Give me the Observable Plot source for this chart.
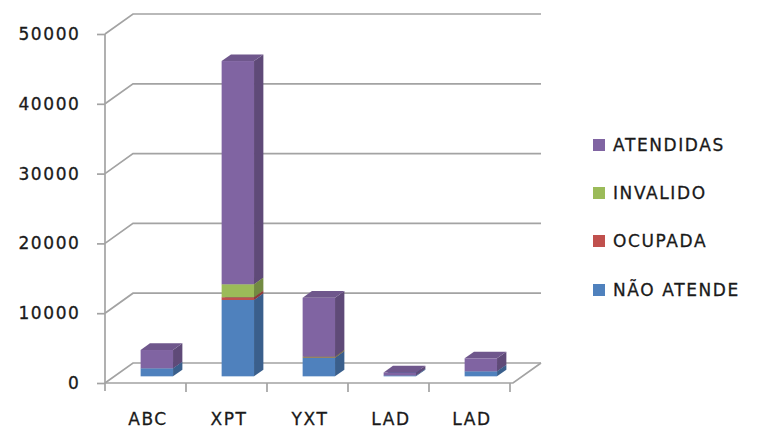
<!DOCTYPE html>
<html>
<head>
<meta charset="utf-8">
<script src="https://cdn.jsdelivr.net/npm/d3@7"></script>
<script src="https://cdn.jsdelivr.net/npm/@observablehq/plot@0.6"></script>
<style>
  html, body { margin: 0; padding: 0; background: #fff; }
  #wrap { position: relative; width: 760px; height: 428px; }
  #wrap svg text { stroke: #1a1a1a; stroke-width: 0.3px; }
  #legend { position: absolute; left: 593px; top: 0; font-family: "DejaVu Sans", sans-serif; font-size: 17px; letter-spacing: 1.6px; color: #1a1a1a; -webkit-text-stroke: 0.3px #1a1a1a; }
  .item { position: absolute; left: 0; white-space: nowrap; display: flex; align-items: center; height: 20px; }
  .sw { width: 12px; height: 12px; margin-right: 8px; flex: none; }
</style>
</head>
<body>
<div id="wrap"><div id="legend"></div></div>
<script>
// ---- data ----
const categories = ["ABC", "XPT", "YXT", "LAD", "LAD"];
const series = ["NÃO ATENDE", "OCUPADA", "INVALIDO", "ATENDIDAS"];
const naoAtende = [1150, 10940, 2660, 130, 720];
const ocupada   = [0, 390, 50, 0, 0];
const invalido  = [0, 1860, 100, 0, 0];
const atendidas = [2620, 31980, 8450, 420, 1860];
const yTicks = [0, 10000, 20000, 30000, 40000, 50000];
const colors = ["#4F81BD", "#C0504D", "#9BBB59", "#8064A2"];
const legendOrder = ["ATENDIDAS", "INVALIDO", "OCUPADA", "NÃO ATENDE"];

const seriesValues = [naoAtende, ocupada, invalido, atendidas];
const data = [];
categories.forEach((c, i) => {
  series.forEach((s, k) => {
    const v = seriesValues[k][i];
    if (v > 0) data.push({i, cat: c, series: s, value: v});
  });
});

// ---- 3D geometry (pixels) ----
const DEPTH_X = 28, DEPTH_Y = 20;           // wall / floor depth
const BAR_DX = DEPTH_X / 3, BAR_DY = DEPTH_Y / 3; // bar depth
const GRID = "#a3a3a3";
const NS = "http://www.w3.org/2000/svg";

function wallsRender(index, scales, values, dimensions) {
  const {width, height, marginLeft, marginRight, marginTop, marginBottom} = dimensions;
  const L = marginLeft, R = width - marginRight, y0 = scales.y(0);
  const g = document.createElementNS(NS, "g");
  g.setAttribute("fill", "none");
  g.setAttribute("stroke", GRID);
  g.setAttribute("stroke-width", 1.7);
  const add = d => { const p = document.createElementNS(NS, "path"); p.setAttribute("d", d); g.appendChild(p); };
  for (const i of index) {
    const y = values.y ? values.y[i] : scales.y(yTicks[i]);
    add(`M${L},${y}L${L + DEPTH_X},${y - DEPTH_Y}L${R + DEPTH_X},${y - DEPTH_Y}`);
  }
  // floor front and right edges
  add(`M${L},${y0}L${R},${y0}L${R + DEPTH_X},${y0 - DEPTH_Y}`);
  // front vertical axis line
  add(`M${L},${scales.y(50000)}L${L},${y0 + 8}`);
  // category boundary ticks
  const bw = scales.x.bandwidth ? scales.x.bandwidth() : (R - L) / categories.length;
  for (let k = 1; k <= categories.length; k++) {
    const x = L + k * bw;
    add(`M${x},${y0}L${x},${y0 + 9}`);
  }
  return g;
}

function bar3d(index, scales, values, dimensions, context, next) {
  const g = next(index, scales, values, dimensions, context);
  const rects = Array.from(g.querySelectorAll("rect"));
  for (const r of rects) {
    const x = +r.getAttribute("x"), y = +r.getAttribute("y");
    const w = +r.getAttribute("width"), h = +r.getAttribute("height");
    const fill = r.getAttribute("fill") || g.getAttribute("fill");
    const side = document.createElementNS(NS, "path");
    side.setAttribute("d", `M${x + w},${y + h}L${x + w},${y}l${BAR_DX},${-BAR_DY}l0,${h}Z`);
    side.setAttribute("fill", d3.color(fill).darker(0.85).formatHex());
    const top = document.createElementNS(NS, "path");
    top.setAttribute("d", `M${x},${y}l${w},0l${BAR_DX},${-BAR_DY}l${-w},0Z`);
    top.setAttribute("fill", d3.color(fill).darker(0.4).formatHex());
    r.after(side, top);
  }
  return g;
}

const chart = Plot.plot({
  width: 760,
  height: 428,
  marginLeft: 105,
  marginRight: 247,
  marginTop: 34,
  marginBottom: 45,
  style: "font-family: 'DejaVu Sans', sans-serif; font-size: 17px; letter-spacing: 1.6px; overflow: visible; background: #fff;",
  x: {type: "band", domain: d3.range(categories.length), padding: 0, axis: null},
  y: {domain: [0, 50000], axis: null},
  color: {domain: series, range: colors},
  marks: [
    Plot.ruleY(yTicks, {y: d => d, render: wallsRender}),
    Plot.barY(data, {
      x: "i", y: "value", fill: "series",
      insetLeft: 24.3, insetRight: 24.3,
      dx: BAR_DX, dy: -BAR_DY,
      render: bar3d
    }),
    Plot.axisY({ticks: yTicks, tickSize: 8, tickPadding: 17, tickFormat: d => String(d),
      label: null, stroke: GRID, strokeWidth: 1.7, fill: "#1a1a1a"}),
    Plot.axisX({tickSize: 0, tickPadding: 29, tickFormat: i => categories[i], label: null, fill: "#1a1a1a"})
  ]
});

document.getElementById("wrap").prepend(chart);

// legend
const legend = document.getElementById("legend");
const itemY = [145, 193, 241, 290];
legendOrder.forEach((s, k) => {
  const it = document.createElement("div");
  it.className = "item";
  it.style.top = (itemY[k] - 10) + "px";
  const sw = document.createElement("span");
  sw.className = "sw";
  sw.style.background = colors[series.indexOf(s)];
  const t = document.createElement("span");
  t.textContent = s;
  it.append(sw, t);
  legend.appendChild(it);
});
</script>
</body>
</html>
